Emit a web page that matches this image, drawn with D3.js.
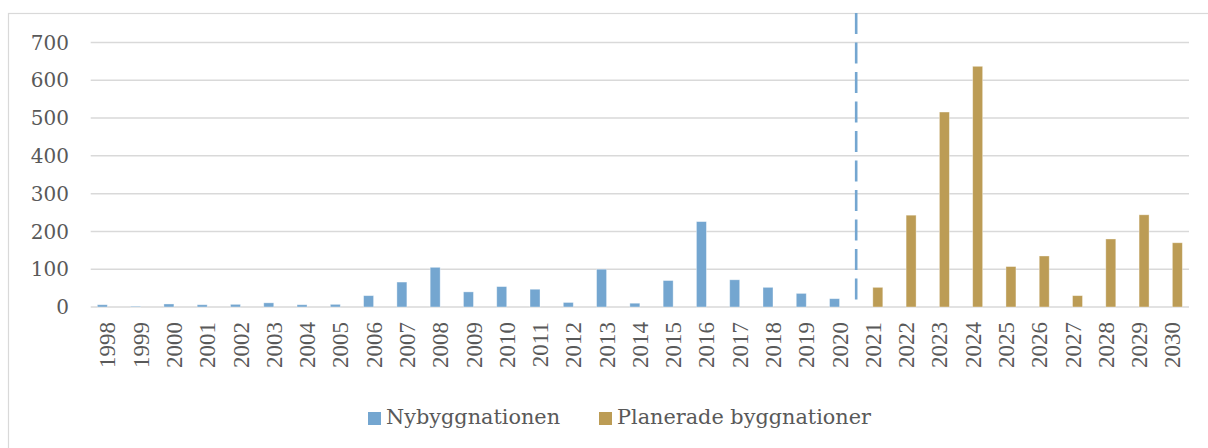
<!DOCTYPE html>
<html>
<head>
<meta charset="utf-8">
<script src="https://cdn.jsdelivr.net/npm/d3@7"></script>
<style>
body { margin: 0; background: #fff; }
svg { display: block; }
</style>
</head>
<body>
<svg id="chart"></svg>
<script>
const w = 1208
const h = 448

// data
const years = ['1998','1999','2000','2001','2002','2003','2004','2005','2006','2007','2008','2009','2010',
	'2011','2012','2013','2014','2015','2016','2017','2018','2019','2020','2021','2022','2023','2024',
	'2025','2026','2027','2028','2029','2030']
const nybyggnationen = [6, 2, 8, 6, 7, 11, 6, 7, 30, 66, 105, 40, 54, 47, 12, 100, 10, 70, 226, 72, 52, 36, 22,
	null, null, null, null, null, null, null, null, null, null]
const planerade = [null, null, null, null, null, null, null, null, null, null, null, null, null, null, null,
	null, null, null, null, null, null, null, null, 52, 243, 516, 637, 107, 135, 30, 180, 244, 170]
const yTicks = [0, 100, 200, 300, 400, 500, 600, 700]
const seriesNames = ['Nybyggnationen', 'Planerade byggnationer']
const seriesColors = ['#74a6d0', '#bc9c55']
const splitAfter = '2020'

const margin = { left: 90.7, right: 19, top: 42.5, bottom: 141 }

const svg = d3.select('#chart')
	.attr('width', w)
	.attr('height', h)

// chart frame
svg.append('rect')
	.attr('x', 8.5).attr('y', 13.5)
	.attr('width', w + 10).attr('height', h + 10)
	.attr('fill', 'none')
	.attr('stroke', '#d9d9d9')
	.attr('stroke-width', 1.2)

const x = d3.scaleBand()
	.domain(years)
	.range([margin.left, w - margin.right])
	.paddingInner(0.4)
	.paddingOuter(0.2)

const xs = d3.scaleBand()
	.domain([0, 1])
	.range([0, x.bandwidth()])

const y = d3.scaleLinear()
	.domain([0, 700])
	.range([h - margin.bottom, margin.top])

// gridlines
svg.append('g')
	.selectAll('line')
	.data(yTicks)
	.enter().append('line')
	.attr('x1', margin.left)
	.attr('x2', w - margin.right)
	.attr('y1', d => y(d))
	.attr('y2', d => y(d))
	.attr('stroke', '#d9d9d9')
	.attr('stroke-width', 1.5)

// y labels
svg.append('g')
	.selectAll('text')
	.data(yTicks)
	.enter().append('text')
	.attr('x', 69)
	.attr('y', d => y(d))
	.attr('dy', '0.36em')
	.attr('text-anchor', 'end')
	.attr('font-family', 'DejaVu Serif')
	.attr('font-size', 20)
	.attr('fill', '#595959')
	.text(d => d)

// bars
const series = [nybyggnationen, planerade]
series.forEach((vals, s) => {
	svg.append('g')
		.selectAll('rect')
		.data(years.map((yr, i) => ({ yr, v: vals[i] })).filter(d => d.v != null))
		.enter().append('rect')
		.attr('x', d => x(d.yr) + xs(s))
		.attr('width', xs.bandwidth())
		.attr('y', d => y(d.v))
		.attr('height', d => y(0) - y(d.v))
		.attr('fill', seriesColors[s])
		.attr('stroke', '#fff')
		.attr('stroke-opacity', 0.45)
		.attr('stroke-width', 0.8)
})

// x labels
svg.append('g')
	.selectAll('text')
	.data(years)
	.enter().append('text')
	.attr('transform', d => `translate(${x(d) + x.bandwidth() / 2}, 322) rotate(-90)`)
	.attr('dy', '0.35em')
	.attr('text-anchor', 'end')
	.attr('font-family', 'Liberation Serif')
	.attr('font-size', 23)
	.attr('fill', '#595959')
	.text(d => d)

// dashed divider between history and plan
const splitX = x(splitAfter) + x.bandwidth() + (x.step() - x.bandwidth()) / 2
svg.append('line')
	.attr('x1', splitX).attr('x2', splitX)
	.attr('y1', 13).attr('y2', y(0))
	.attr('stroke', seriesColors[0])
	.attr('stroke-width', 2.6)
	.attr('stroke-dasharray', '21, 8.5')

// legend
const legendPos = [368, 599]
const legend = svg.append('g')
	.selectAll('g')
	.data(seriesNames)
	.enter().append('g')
	.attr('transform', (_, i) => `translate(${legendPos[i]}, 412)`)
legend.append('rect')
	.attr('width', 13).attr('height', 13)
	.attr('fill', (_, i) => seriesColors[i])
legend.append('text')
	.attr('x', 18)
	.attr('y', 11.5)
	.attr('font-family', 'DejaVu Serif')
	.attr('font-size', 20.8)
	.attr('fill', '#595959')
	.text(d => d)
</script>
</body>
</html>
